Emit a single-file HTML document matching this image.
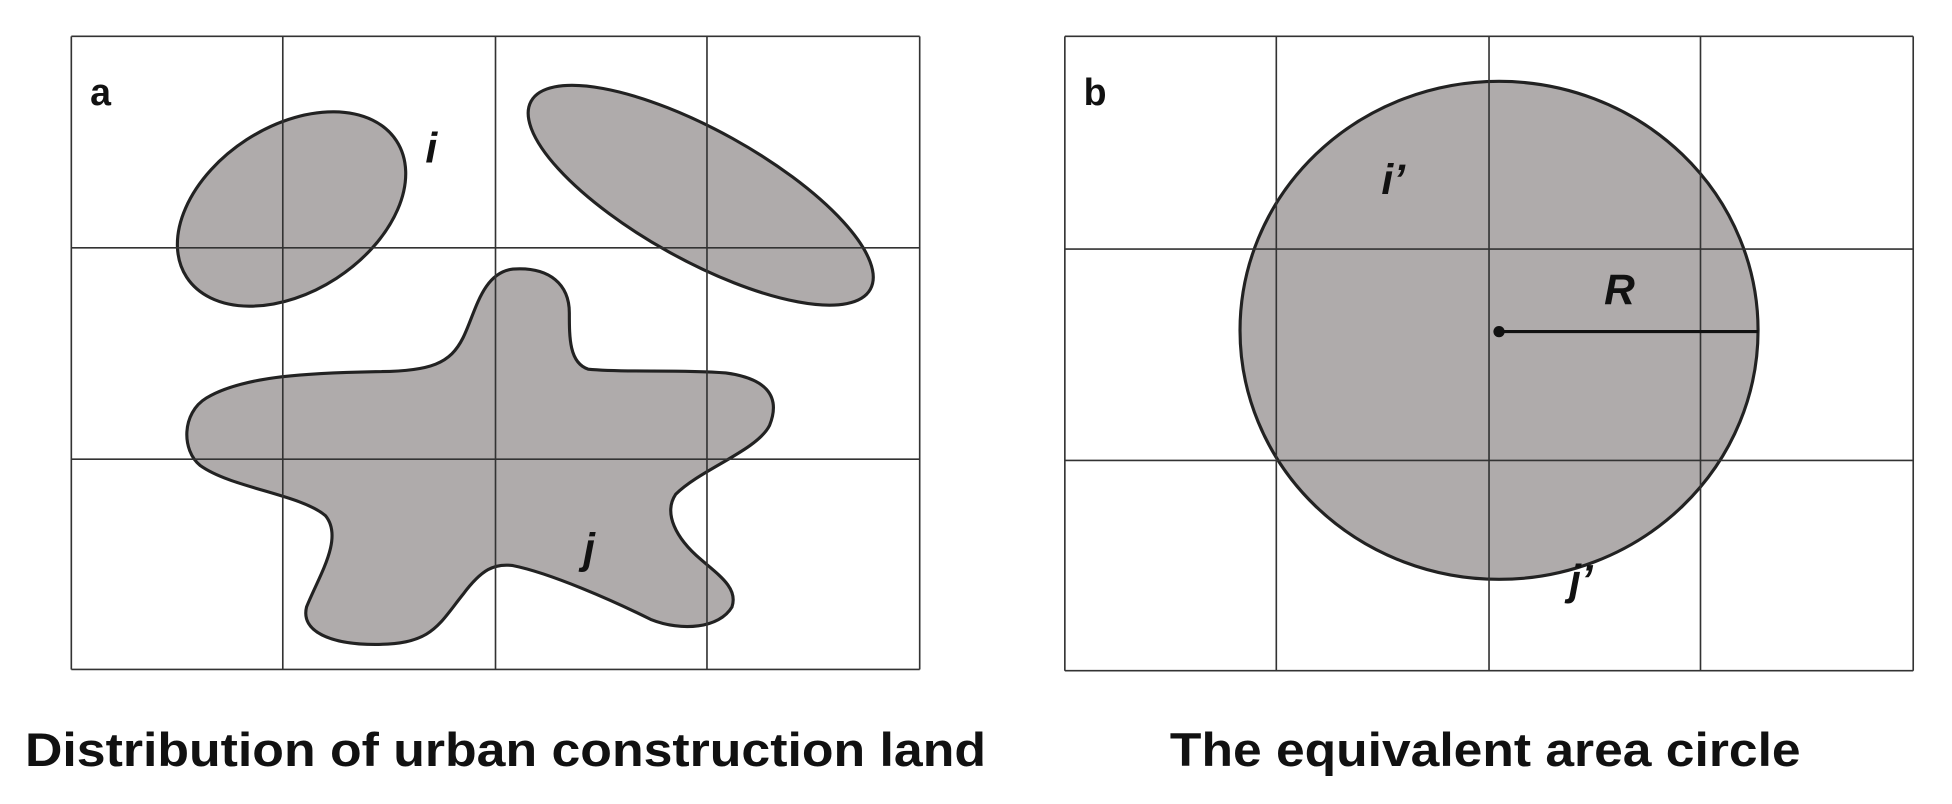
<!DOCTYPE html>
<html><head><meta charset="utf-8"><style>html,body{margin:0;padding:0;background:#fff}svg{display:block}</style></head>
<body>
<svg width="1952" height="804" viewBox="0 0 1560 642.5" xmlns="http://www.w3.org/2000/svg" font-family="Liberation Sans, sans-serif">
<rect width="1560" height="642.5" fill="#fff"/>
<g fill="#afabab" stroke="#222" stroke-width="2.5">
<ellipse cx="233" cy="167" rx="100" ry="66" transform="rotate(-33 233 167)"/>
<ellipse cx="560" cy="156" rx="155" ry="52" transform="rotate(29 560 156)"/>
<path d="M410,215 C385,218 380,250 370,270 C360,290 345,297 300,297 C250,298 195,300 165,318 C145,330 145,360 160,372 C185,390 240,395 260,412 C275,430 255,460 245,485 C240,505 265,515 300,515 C345,515 350,500 370,475 C385,455 395,450 410,452 C440,458 490,480 520,495 C545,505 575,502 585,485 C590,470 575,460 560,447 C540,430 530,410 540,395 C560,375 605,360 615,340 C625,315 610,302 580,298 C540,295 500,298 470,295 C455,290 455,270 455,250 C455,228 440,213 410,215 Z"/>
<ellipse cx="1198" cy="264" rx="207" ry="199"/>
</g>
<g stroke="#333" stroke-width="1.3" fill="none">
<path d="M57,29H735M57,198H735M57,367H735M57,535H735M57,29V535M226,29V535M396,29V535M565,29V535M735,29V535"/>
<path d="M851,29H1529M851,199H1529M851,368H1529M851,536H1529M851,29V536M1020,29V536M1190,29V536M1359,29V536M1529,29V536"/>
</g>
<line x1="1198" y1="265" x2="1405" y2="265" stroke="#111" stroke-width="2.5"/>
<circle cx="1198" cy="265" r="4.5" fill="#111"/>
<g font-weight="bold" fill="#111" font-size="30">
<text x="72" y="84">a</text>
<text x="866" y="84">b</text>
<g font-style="italic" font-size="34">
<text x="340" y="130">i</text>
<text x="466" y="450">j</text>
<text x="1104" y="155">i’</text>
<text x="1282" y="243">R</text>
<text x="1254" y="475">j’</text>
</g>
<text x="20" y="612" font-size="38" textLength="768" lengthAdjust="spacingAndGlyphs">Distribution of urban construction land</text>
<text x="935" y="612" font-size="38" textLength="504" lengthAdjust="spacingAndGlyphs">The equivalent area circle</text>
</g>
</svg>
</body></html>
